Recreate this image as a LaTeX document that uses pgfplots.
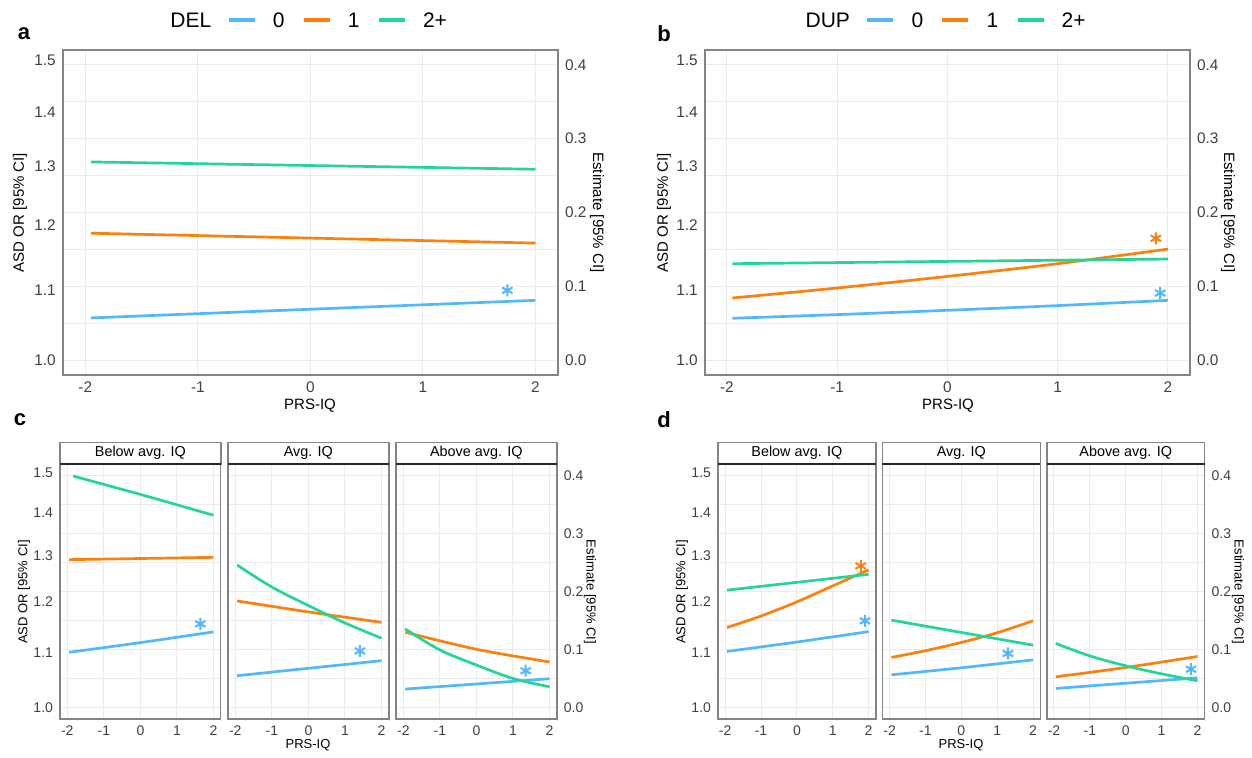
\documentclass[border=0pt]{standalone}
\usepackage{fontspec}
\setmainfont{Liberation Sans}
\usepackage{pgfplots}
\pgfplotsset{compat=1.18}

\definecolor{cblue}{HTML}{4FB8FF}
\definecolor{corange}{HTML}{FF7F0A}
\definecolor{cgreen}{HTML}{22D696}
\definecolor{gridcol}{HTML}{EBEBEB}
\definecolor{framecol}{HTML}{858585}
\definecolor{tickcol}{HTML}{404040}

\newcommand{\ticka}{\fontsize{7.7}{9}\selectfont}
\newcommand{\tickf}{\fontsize{7}{8.5}\selectfont}
\newcommand{\titlea}{\fontsize{7.5}{9}\selectfont}
\newcommand{\titlec}{\fontsize{6.5}{8}\selectfont}
\newcommand{\stripf}{\fontsize{7.2}{8.5}\selectfont}
\newcommand{\legf}{\fontsize{10.5}{12}\selectfont}

\pgfplotsset{
  base/.style={scale only axis, anchor=south west,
    xmin=-2.2, xmax=2.2, ymin=-0.02, ymax=0.42,
    xtick={-2,-1,0,1,2}, xticklabels={-2,-1,0,1,2},
    ytick={0,0.1,0.2,0.3,0.4}, yticklabels={0.0,0.1,0.2,0.3,0.4},
    minor ytick={0.05,0.15,0.25,0.35},
    yticklabel pos=right,
    xmajorgrids, ymajorgrids, yminorgrids,
    major grid style={color=gridcol, line width=0.5pt},
    minor grid style={color=gridcol, line width=0.5pt},
    major tick length=0pt, minor tick length=0pt,
    axis line style={color=framecol, line width=0.7pt},
    tick label style={font=\ticka, text=tickcol},
    every axis plot/.append style={line width=1.35pt}},
  facet/.style={base, tick label style={font=\tickf, text=tickcol}},
  leftlab/.style={scale only axis, anchor=south west,
    xmin=-2.2, xmax=2.2, ymin=-0.02, ymax=0.42, xtick=\empty,
    ytick={0,0.09531,0.18232,0.26236,0.33647,0.40547},
    yticklabels={1.0,1.1,1.2,1.3,1.4,1.5},
    major tick length=0pt, axis line style={draw=none},
    tick label style={font=\ticka, text=tickcol}},
  star/.style={only marks, mark=asterisk, mark size=3pt, mark options={line width=1pt}},
}

\begin{document}
\begin{tikzpicture}
\useasboundingbox (0,0) rectangle (626pt,-378.5pt);

% ---------- panel a ----------
\begin{axis}[base, at={(31.4pt,-187.5pt)}, width=247.6pt, height=162.5pt]
\addplot[cblue] coordinates {(-1.95,0.0573) (2,0.0811)};
\addplot[corange] coordinates {(-1.95,0.172) (2,0.1586)};
\addplot[cgreen] coordinates {(-1.95,0.2685) (2,0.2586)};
\addplot[cblue, star] coordinates {(1.75,0.0946)};
\end{axis}
\begin{axis}[leftlab, at={(31.4pt,-187.5pt)}, width=247.6pt, height=162.5pt]
\end{axis}

% ---------- panel b ----------
\begin{axis}[base, at={(352.4pt,-187.5pt)}, width=242.6pt, height=162.5pt]
\addplot[cblue, smooth] coordinates {(-1.95,0.0568) (-1,0.0618) (0,0.0676) (1,0.074) (2,0.0811)};
\addplot[corange, smooth] coordinates {(-1.95,0.0843) (-1,0.0978) (0,0.1135) (1,0.1307) (2,0.1505)};
\addplot[cgreen] coordinates {(-1.95,0.1307) (2,0.137)};
\addplot[corange, star] coordinates {(1.89,0.165)};
\addplot[cblue, star] coordinates {(1.93,0.091)};
\end{axis}
\begin{axis}[leftlab, at={(352.4pt,-187.5pt)}, width=242.6pt, height=162.5pt]
\end{axis}

% ---------- panel c ----------
\begin{axis}[facet, at={(30pt,-359.5pt)}, width=80.4pt, height=127.35pt, yticklabels={}]
\addplot[cblue, smooth] coordinates {(-1.95,0.0953) (0,0.112) (2,0.1305)};
\addplot[corange] coordinates {(-1.95,0.2553) (2,0.2593)};
\addplot[cgreen, smooth] coordinates {(-1.84,0.3997) (0,0.368) (2,0.332)};
\addplot[cblue, star] coordinates {(1.64,0.1444)};
\end{axis}
\begin{axis}[leftlab, at={(30pt,-359.5pt)}, width=80.4pt, height=127.35pt, tick label style={font=\tickf, text=tickcol}]
\end{axis}
\begin{axis}[facet, at={(114pt,-359.5pt)}, width=80.4pt, height=127.35pt, yticklabels={}]
\addplot[cblue, smooth] coordinates {(-1.95,0.0548) (0,0.0676) (2,0.0808)};
\addplot[corange, smooth] coordinates {(-1.95,0.184) (0,0.165) (2,0.147)};
\addplot[cgreen, smooth] coordinates {(-1.95,0.246) (-1,0.208) (0,0.176) (1,0.146) (2,0.1196)};
\addplot[cblue, star] coordinates {(1.41,0.0976)};
\end{axis}
\begin{axis}[facet, at={(198pt,-359.5pt)}, width=80.4pt, height=127.35pt]
\addplot[cblue] coordinates {(-1.95,0.0317) (2,0.0496)};
\addplot[corange, smooth] coordinates {(-1.95,0.13) (0,0.1005) (2,0.0785)};
\addplot[cgreen, smooth] coordinates {(-1.95,0.1357) (-1,0.0993) (0,0.0733) (1,0.05) (2,0.0357)};
\addplot[cblue, star] coordinates {(1.35,0.0634)};
\end{axis}

% ---------- panel d ----------
\begin{axis}[facet, at={(359pt,-359.5pt)}, width=78.9pt, height=127.35pt, yticklabels={}]
\addplot[cblue, smooth] coordinates {(-1.95,0.0967) (0,0.113) (2,0.131)};
\addplot[corange, smooth] coordinates {(-1.95,0.138) (-1,0.158) (0,0.1824) (1,0.21) (2,0.2377)};
\addplot[cgreen] coordinates {(-1.95,0.2026) (2,0.230)};
\addplot[corange, star] coordinates {(1.78,0.2446)};
\addplot[cblue, star] coordinates {(1.9,0.1496)};
\end{axis}
\begin{axis}[leftlab, at={(359pt,-359.5pt)}, width=78.9pt, height=127.35pt, tick label style={font=\tickf, text=tickcol}]
\end{axis}
\begin{axis}[facet, at={(441.2pt,-359.5pt)}, width=78.9pt, height=127.35pt, yticklabels={}]
\addplot[cblue, smooth] coordinates {(-1.95,0.0563) (0,0.0685) (2,0.0822)};
\addplot[corange, smooth] coordinates {(-1.95,0.0864) (-1,0.098) (0,0.1123) (1,0.129) (2,0.1496)};
\addplot[cgreen, smooth] coordinates {(-1.95,0.1508) (0,0.1295) (2,0.1076)};
\addplot[cblue, star] coordinates {(1.3,0.0933)};
\end{axis}
\begin{axis}[facet, at={(523.4pt,-359.5pt)}, width=78.9pt, height=127.35pt]
\addplot[cblue] coordinates {(-1.95,0.0328) (2,0.0511)};
\addplot[corange, smooth] coordinates {(-1.95,0.0529) (0,0.069) (2,0.088)};
\addplot[cgreen, smooth] coordinates {(-1.95,0.1105) (-1,0.089) (0,0.0719) (1,0.058) (2,0.046)};
\addplot[cblue, star] coordinates {(1.82,0.066)};
\end{axis}

% ---------- facet strips ----------
\foreach \xa/\xb/\lab in {30/110.4/{Below avg. IQ}, 114/194.4/{Avg. IQ}, 198/278.4/{Above avg. IQ},
                          359/437.9/{Below avg. IQ}, 441.2/520.1/{Avg. IQ}, 523.4/602.3/{Above avg. IQ}} {
  \draw[framecol, line width=0.7pt, fill=white] (\xa pt,-221.15pt) rectangle (\xb pt,-232.15pt);
  \draw[black!85, line width=1pt] (\xa pt,-232.15pt) -- (\xb pt,-232.15pt);
  \node[font=\stripf] at ({(\xa+\xb)/2*1pt},-226.6pt) {\lab};
}

% ---------- axis titles ----------
\node[font=\titlea, rotate=90] at (10pt,-106.25pt) {ASD OR [95\% CI]};
\node[font=\titlea, rotate=-90] at (298.5pt,-106.25pt) {Estimate [95\% CI]};
\node[font=\titlea] at (155pt,-203pt) {PRS-IQ};
\node[font=\titlea, rotate=90] at (332pt,-106.25pt) {ASD OR [95\% CI]};
\node[font=\titlea, rotate=-90] at (614pt,-106.25pt) {Estimate [95\% CI]};
\node[font=\titlea] at (474pt,-203pt) {PRS-IQ};
\node[font=\titlec, rotate=90] at (12pt,-296pt) {ASD OR [95\% CI]};
\node[font=\titlec, rotate=-90] at (295pt,-296pt) {Estimate [95\% CI]};
\node[font=\titlec] at (154pt,-372.5pt) {PRS-IQ};
\node[font=\titlec, rotate=90] at (341pt,-296pt) {ASD OR [95\% CI]};
\node[font=\titlec, rotate=-90] at (619pt,-296pt) {Estimate [95\% CI]};
\node[font=\titlec] at (480.5pt,-372.5pt) {PRS-IQ};

% ---------- panel letters ----------
\node[font=\bfseries\fontsize{11}{13}\selectfont] at (12pt,-17pt) {a};
\node[font=\bfseries\fontsize{11}{13}\selectfont] at (332pt,-17pt) {b};
\node[font=\bfseries\fontsize{11}{13}\selectfont] at (10pt,-210pt) {c};
\node[font=\bfseries\fontsize{11}{13}\selectfont] at (332pt,-210pt) {d};

% ---------- legends ----------
\foreach \x/\ttl in {85/DEL, 402.6/DUP} {
  \node[font=\legf, anchor=west, inner sep=0pt, text=black] (h) at (\x pt,-10pt) {\ttl};
  \draw[cblue, line width=2.2pt] ([xshift=8.5pt]h.east) -- ++(13pt,0)
     node[font=\legf, anchor=west, inner sep=0pt, xshift=8pt, text=black] (k0) {0};
  \draw[corange, line width=2.2pt] ([xshift=8.5pt]k0.east) -- ++(13pt,0)
     node[font=\legf, anchor=west, inner sep=0pt, xshift=8pt, text=black] (k1) {1};
  \draw[cgreen, line width=2.2pt] ([xshift=8.5pt]k1.east) -- ++(13pt,0)
     node[font=\legf, anchor=west, inner sep=0pt, xshift=8pt, text=black] (k2) {2+};
}
\end{tikzpicture}
\end{document}
